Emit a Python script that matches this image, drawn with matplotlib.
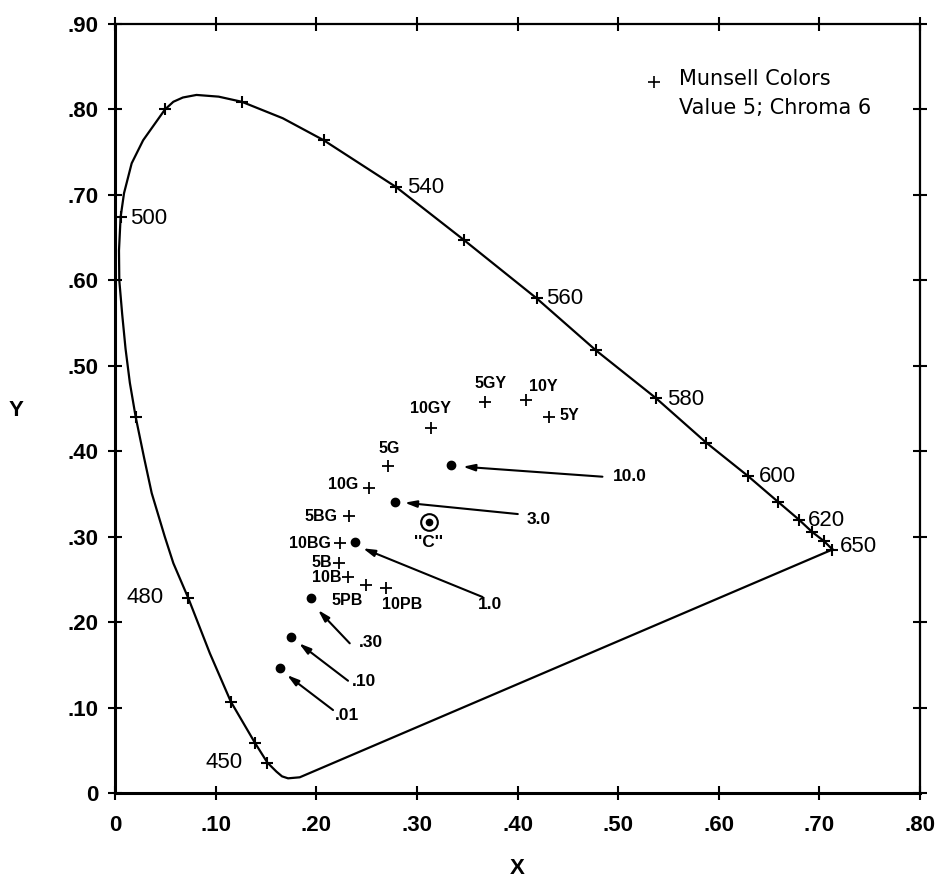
import matplotlib
matplotlib.use("Agg")
import matplotlib.pyplot as plt

# spectral locus (red end -> blue end)
locus_x = [0.713, 0.7044, 0.6928, 0.6796, 0.6587, 0.629, 0.5876, 0.5377, 0.478, 0.419,
           0.347, 0.2796, 0.2074, 0.1668, 0.126, 0.103, 0.081, 0.0675, 0.058, 0.0497,
           0.028, 0.0166, 0.009, 0.0056, 0.004, 0.0043, 0.0072, 0.0105, 0.0148, 0.0206,
           0.029, 0.0365, 0.0495, 0.058, 0.0729, 0.0943, 0.1151, 0.139, 0.1515, 0.1605, 0.166,
           0.172, 0.1836, 0.713]
locus_y = [0.285, 0.295, 0.3055, 0.320, 0.341, 0.371, 0.410, 0.462, 0.518, 0.579,
           0.647, 0.709, 0.764, 0.7897, 0.809, 0.815, 0.817, 0.814, 0.809, 0.800,
           0.764, 0.737, 0.702, 0.674, 0.635, 0.600, 0.560, 0.520, 0.480, 0.440,
           0.392, 0.351, 0.300, 0.269, 0.228, 0.1635, 0.107, 0.0589, 0.0355, 0.025, 0.0195,
           0.0172, 0.0184, 0.285]

# wavelength marks every 10 nm (650 ... 450)
wl_x = [0.713, 0.7044, 0.6928, 0.6796, 0.6587, 0.629, 0.5876, 0.5377, 0.478, 0.419,
        0.347, 0.2796, 0.2074, 0.126, 0.0497, 0.0056, 0.0206, 0.0729, 0.1151, 0.139, 0.1515]
wl_y = [0.285, 0.295, 0.3055, 0.320, 0.341, 0.371, 0.410, 0.462, 0.518, 0.579,
        0.647, 0.709, 0.764, 0.809, 0.800, 0.674, 0.440, 0.228, 0.107, 0.0589, 0.0355]

wl_labels = ['500', '540', '560', '580', '600', '620', '650', '480', '450']
wl_lab_x = [0.0149, 0.2898, 0.4285, 0.5483, 0.6397, 0.6888, 0.7204, 0.0116, 0.0903]
wl_lab_y = [0.6724, 0.7087, 0.5782, 0.460, 0.371, 0.3188, 0.288, 0.2294, 0.0363]

# Munsell colours, value 5 chroma 6
mun_names = ['5Y', '10Y', '5GY', '10GY', '5G', '10G', '5BG', '10BG', '5B', '10B', '5PB', '10PB']
mun_x = [0.431, 0.408, 0.368, 0.3136, 0.2713, 0.2524, 0.2323, 0.2233, 0.2226, 0.2316, 0.249, 0.2697]
mun_y = [0.4405, 0.460, 0.458, 0.4268, 0.3827, 0.3566, 0.3242, 0.293, 0.2688, 0.2532, 0.2435, 0.2396]
mun_lab_x = [0.4516, 0.4258, 0.3737, 0.3136, 0.272, 0.2266, 0.2045, 0.1935, 0.2052, 0.2101, 0.2308, 0.2854]
mun_lab_y = [0.4424, 0.4756, 0.479, 0.4503, 0.4034, 0.3605, 0.3234, 0.2922, 0.2695, 0.2525, 0.2249, 0.2212]

# dots with arrows
dot_labels = ['10.0', '3.0', '1.0', '.30', '.10', '.01']
dot_x = [0.3342, 0.2779, 0.2382, 0.1945, 0.1754, 0.1638]
dot_y = [0.3835, 0.341, 0.294, 0.2278, 0.183, 0.1467]
head_x = [0.3457, 0.2878, 0.2464, 0.2018, 0.1829, 0.171]
head_y = [0.3819, 0.3398, 0.2864, 0.2142, 0.1752, 0.1381]
tail_x = [0.4844, 0.4003, 0.3653, 0.2333, 0.2316, 0.2167]
tail_y = [0.3702, 0.3265, 0.2294, 0.1752, 0.1314, 0.0971]
dlab_x = [0.4943, 0.409, 0.3603, 0.2422, 0.2352, 0.2184]
dlab_y = [0.371, 0.3207, 0.2212, 0.1756, 0.131, 0.0913]

illum_x, illum_y = 0.312, 0.3175

xticks = [0, 0.1, 0.2, 0.3, 0.4, 0.5, 0.6, 0.7, 0.8]
xtick_labels = ['0', '.10', '.20', '.30', '.40', '.50', '.60', '.70', '.80']
yticks = [0, 0.1, 0.2, 0.3, 0.4, 0.5, 0.6, 0.7, 0.8, 0.9]
ytick_labels = ['0', '.10', '.20', '.30', '.40', '.50', '.60', '.70', '.80', '.90']

sans = ['Liberation Sans', 'DejaVu Sans']

fig = plt.figure(figsize=(9.37, 8.83), dpi=100)
ax = fig.add_axes([0.1227, 0.1019, 0.8592, 0.8709])

ax.plot(locus_x, locus_y, color='black', lw=1.6, solid_joinstyle='round')
ax.plot(wl_x, wl_y, ls='none', marker='+', ms=8, mew=1.5, color='black')
for t, x, y in zip(wl_labels, wl_lab_x, wl_lab_y):
    ax.text(x, y, t, family=sans, fontsize=16, ha='left', va='center')

ax.plot(mun_x, mun_y, ls='none', marker='+', ms=8, mew=1.3, color='black')
for t, x, y in zip(mun_names, mun_lab_x, mun_lab_y):
    ax.text(x, y, t, family=sans, fontsize=11.5, weight='bold', ha='center', va='center')

ax.plot(dot_x, dot_y, ls='none', marker='o', ms=6, color='black')
for i in range(len(dot_labels)):
    ax.annotate('', xy=(head_x[i], head_y[i]), xytext=(tail_x[i], tail_y[i]),
                arrowprops=dict(arrowstyle='-|>,head_length=0.7,head_width=0.2',
                                color='black', lw=1.5, shrinkA=0, shrinkB=0))
    ax.text(dlab_x[i], dlab_y[i], dot_labels[i], family=sans, fontsize=12.5,
            weight='bold', ha='left', va='center')

ax.plot([illum_x], [illum_y], marker='o', ms=12, mfc='none', mec='black', mew=1.5)
ax.plot([illum_x], [illum_y], marker='o', ms=4.5, color='black')
ax.text(illum_x, 0.2932, "''C''", family=sans, fontsize=12.5, weight='bold',
        ha='center', va='center')

# legend text
ax.plot([0.536], [0.8326], marker='+', ms=8, mew=1.2, color='black')
ax.text(0.5608, 0.8356, 'Munsell Colors', family=['DejaVu Sans'], fontsize=15,
        ha='left', va='center')
ax.text(0.5608, 0.8014, 'Value 5; Chroma 6', family=['DejaVu Sans'], fontsize=15,
        ha='left', va='center')

ax.set_xlim(0, 0.8)
ax.set_ylim(0, 0.9)
ax.set_xticks(xticks)
ax.set_xticklabels(xtick_labels, family=sans, fontsize=16, weight='bold')
ax.set_yticks(yticks)
ax.set_yticklabels(ytick_labels, family=sans, fontsize=16, weight='bold')
ax.tick_params(direction='inout', length=10, width=1.5, top=True, right=True)
ax.tick_params(axis='x', pad=11)
ax.tick_params(axis='y', pad=7)

for side in ['left', 'bottom']:
    ax.spines[side].set_linewidth(2.2)
for side in ['top', 'right']:
    ax.spines[side].set_linewidth(1.6)

ax.set_xlabel('X', family=sans, fontsize=16, weight='bold', va='center')
ax.xaxis.set_label_coords(0.5, -0.0975)
ax.set_ylabel('Y', family=sans, fontsize=16, weight='bold', rotation=0,
              va='center', ha='center')
ax.yaxis.set_label_coords(-0.123, 0.498)

fig.savefig('out.png', dpi=100)
